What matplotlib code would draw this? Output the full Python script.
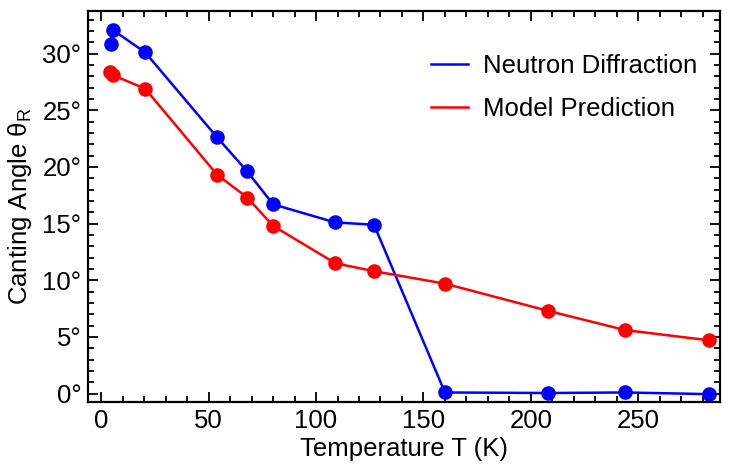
import matplotlib
matplotlib.use('Agg')
import matplotlib.pyplot as plt
from matplotlib.ticker import MultipleLocator, FuncFormatter

plt.rcParams['font.family'] = ['Liberation Sans', 'DejaVu Sans']
plt.rcParams['mathtext.fontset'] = 'custom'
plt.rcParams['mathtext.rm'] = 'Liberation Sans'

# data
t_neutron = [4.5, 5.3, 20.5, 54, 68, 80, 109, 127, 160, 208, 244, 283]
theta_neutron = [30.85, 32.1, 30.1, 22.6, 19.6, 16.7, 15.1, 14.9, 0.1, 0.05, 0.1, -0.05]

t_model = [4.2, 5.4, 20.5, 54, 68, 80, 109, 127, 160, 208, 244, 283]
theta_model = [28.4, 28.1, 26.9, 19.3, 17.3, 14.8, 11.5, 10.8, 9.7, 7.3, 5.6, 4.7]

fs = 18.5

fig = plt.figure(figsize=(7.31, 4.67), dpi=100)
ax = fig.add_axes([0.1208, 0.139, 0.864, 0.8375])

ax.plot(t_neutron, theta_neutron, color='#0000ff', lw=1.8, label='Neutron Diffraction')
ax.plot(t_neutron, theta_neutron, 'o', color='#0000ff', ms=10.5, mec='none')
ax.plot(t_model, theta_model, color='#ff0000', lw=1.8, label='Model Prediction')
ax.plot(t_model, theta_model, 'o', color='#ff0000', ms=10.5, mec='none')

ax.set_xlim(-6, 288)
ax.set_ylim(-0.75, 33.76)

ax.xaxis.set_major_locator(MultipleLocator(50))
ax.xaxis.set_minor_locator(MultipleLocator(10))
ax.yaxis.set_major_locator(MultipleLocator(5))
ax.yaxis.set_minor_locator(MultipleLocator(1))
ax.yaxis.set_major_formatter(FuncFormatter(lambda v, p: f'{v:g}°'))

ax.tick_params(which='both', direction='in', top=True, right=True, labelsize=fs, width=1.3)
ax.tick_params(which='major', length=7, pad=5)
ax.tick_params(which='minor', length=4)
for s in ax.spines.values():
    s.set_linewidth(1.6)

ax.set_xlabel('Temperature T (K)', fontsize=fs, labelpad=3)
ax.set_ylabel('Canting Angle θ$_\\mathregular{R}$', fontsize=fs, labelpad=6)

ax.legend(loc='upper right', frameon=False, fontsize=fs, handlelength=1.45,
          handletextpad=0.55, labelspacing=0.75, bbox_to_anchor=(1.0, 0.95))

fig.savefig('out.png', dpi=100)
